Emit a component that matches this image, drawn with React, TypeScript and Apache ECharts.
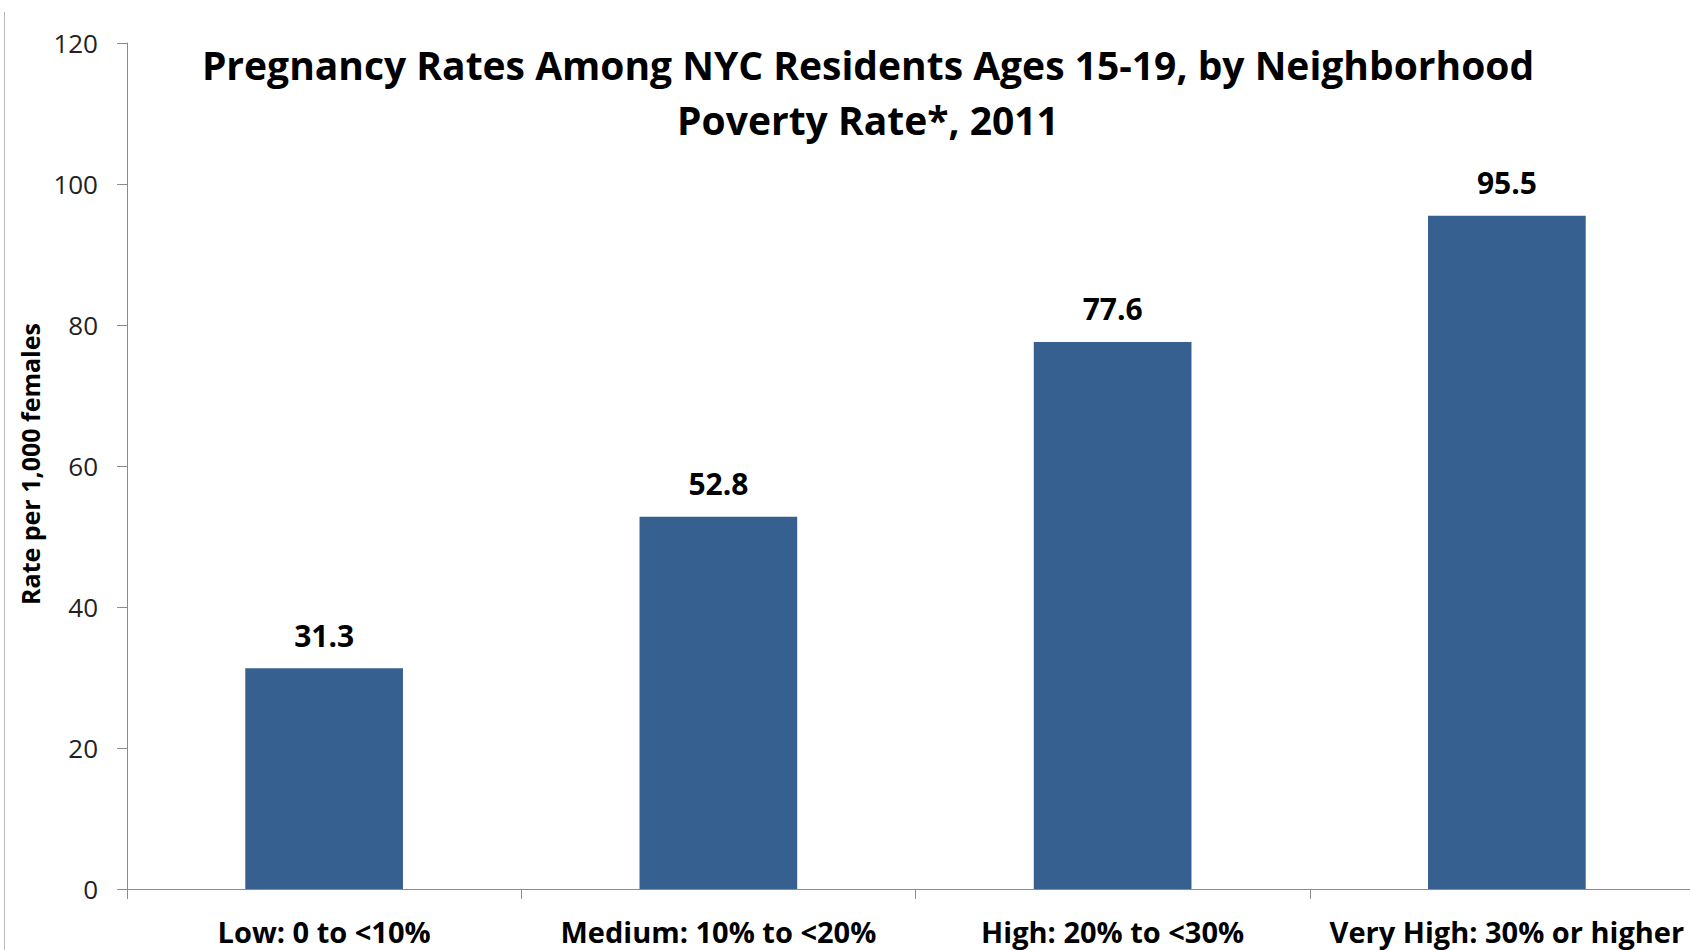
import React, { useEffect, useRef } from "react";
import * as echarts from "echarts";

const categories = [
  "Low: 0 to <10%",
  "Medium: 10% to <20%",
  "High: 20% to <30%",
  "Very High: 30% or higher",
];
const rates = [31.3, 52.8, 77.6, 95.5];
const titleLines = [
  "Pregnancy Rates Among NYC Residents Ages 15-19, by Neighborhood",
  "Poverty Rate*, 2011",
];
const yAxisName = "Rate per 1,000 females";

const FONT = "'Open Sans', 'Noto Sans', sans-serif";

export default function App() {
  const ref = useRef<HTMLDivElement>(null);
  useEffect(() => {
    if (!ref.current) return;
    const chart = echarts.init(ref.current, undefined, { renderer: "svg" });
    chart.setOption({
      animation: false,
      backgroundColor: "#ffffff",
      grid: { left: 127, top: 43, bottom: 61, right: 0, containLabel: false },
      graphic: [
        {
          type: "line",
          shape: { x1: 4.5, y1: 12, x2: 4.5, y2: 950 },
          style: { stroke: "#b8b8b8", lineWidth: 1 },
        },
        {
          type: "text",
          x: 868,
          y: 64,
          style: {
            text: titleLines[0],
            font: `bold 39px ${FONT}`,
            fill: "#000",
            textAlign: "center",
            textVerticalAlign: "middle",
          },
        },
        {
          type: "text",
          x: 868,
          y: 119,
          style: {
            text: titleLines[1],
            font: `bold 39px ${FONT}`,
            fill: "#000",
            textAlign: "center",
            textVerticalAlign: "middle",
          },
        },
        {
          type: "text",
          x: 30,
          y: 464,
          rotation: Math.PI / 2,
          style: {
            text: yAxisName,
            font: `bold 25px ${FONT}`,
            fill: "#000",
            textAlign: "center",
            textVerticalAlign: "middle",
          },
        },
      ],
      xAxis: {
        type: "category",
        data: categories,
        axisLine: { show: true, lineStyle: { color: "#8c8c8c", width: 1 } },
        axisTick: { show: true, length: 10, lineStyle: { color: "#8c8c8c" } },
        axisLabel: {
          margin: 28,
          color: "#000",
          fontFamily: FONT,
          fontWeight: "bold",
          fontSize: 29,
          interval: 0,
        },
      },
      yAxis: {
        type: "value",
        min: 0,
        max: 120,
        interval: 20,
        axisLine: { show: true, lineStyle: { color: "#8c8c8c", width: 1 } },
        axisTick: { show: true, length: 10, lineStyle: { color: "#8c8c8c" } },
        splitLine: { show: false },
        axisLabel: {
          margin: 29,
          color: "#222",
          fontFamily: FONT,
          fontSize: 26,
        },
      },
      series: [
        {
          type: "bar",
          data: rates,
          barWidth: "40%",
          itemStyle: { color: "#36608F" },
          label: {
            show: true,
            position: "top",
            distance: 18,
            color: "#000",
            fontFamily: FONT,
            fontWeight: "bold",
            fontSize: 30,
            formatter: (p: any) => p.value.toFixed(1),
          },
        },
      ],
    });
    return () => chart.dispose();
  }, []);
  return (
    <div
      style={{
        position: "absolute",
        left: 0,
        top: 0,
        width: 1690,
        height: 950,
        overflow: "hidden",
      }}
    >
      <div ref={ref} style={{ width: 1704, height: 950 }} />
    </div>
  );
}
